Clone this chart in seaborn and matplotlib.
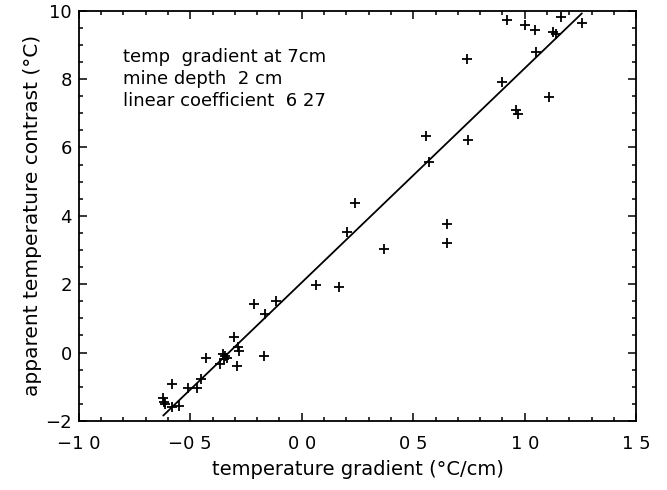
import matplotlib
matplotlib.use("Agg")
import matplotlib.pyplot as plt
from matplotlib.ticker import MultipleLocator, FixedLocator, FixedFormatter
import numpy as np
import pandas as pd
import seaborn as sns

# Measured temperature gradient (°C/cm) vs apparent temperature contrast (°C)
gradient = [
    0.922, 1.003, 1.047, 1.163, 1.256, 1.126, 1.140, 1.051, 0.743, 0.900,
    1.108, 0.960, 0.970, 0.559, 0.571, 0.746, 0.649, 0.649, 0.239, 0.201,
    0.367, 0.064, 0.168,
    -0.117, -0.215, -0.164, -0.303, -0.288, -0.283, -0.292, -0.171, -0.342,
    -0.352, -0.336, -0.347, -0.367, -0.428, -0.453, -0.470, -0.512, -0.583,
    -0.621, -0.616, -0.611, -0.580, -0.551,
]
contrast = [
    9.74, 9.58, 9.44, 9.82, 9.64, 9.39, 9.32, 8.78, 8.60, 7.91,
    7.48, 7.10, 6.99, 6.33, 5.59, 6.22, 3.75, 3.20, 4.38, 3.54,
    3.04, 1.98, 1.91,
    1.52, 1.43, 1.12, 0.46, 0.16, 0.06, -0.38, -0.10, -0.10,
    -0.04, -0.16, -0.20, -0.33, -0.15, -0.77, -1.03, -1.05, -0.93,
    -1.32, -1.46, -1.51, -1.60, -1.56,
]

# Linear fit parameters
slope = 6.27
intercept = 2.05

x_ticks = [-1.0, -0.5, 0.0, 0.5, 1.0, 1.5]
x_tick_labels = ["\u22121 0", "\u22120 5", "0 0", "0 5", "1 0", "1 5"]
y_ticks = [-2, 0, 2, 4, 6, 8, 10]
y_tick_labels = ["\u22122", "0", "2", "4", "6", "8", "10"]

info_lines = [
    "temp  gradient at 7cm",
    "mine depth  2 cm",
    "linear coefficient  6 27",
]

df = pd.DataFrame({"gradient": gradient, "contrast": contrast})
fit_x = np.array([min(gradient), max(gradient)])
fit = pd.DataFrame({"gradient": fit_x, "contrast": intercept + slope * fit_x})

sns.set_style("ticks")
plt.rcParams["font.family"] = ["DejaVu Sans"]
plt.rcParams["text.color"] = "black"
plt.rcParams["axes.labelcolor"] = "black"
plt.rcParams["xtick.color"] = "black"
plt.rcParams["ytick.color"] = "black"

fig = plt.figure(figsize=(6.67, 4.90), dpi=100)
ax = fig.add_axes([0.118, 0.141, 0.836, 0.837])

sns.scatterplot(data=df, x="gradient", y="contrast", marker="+", s=55,
                color="black", linewidth=1.3, ax=ax, zorder=3)
sns.lineplot(data=fit, x="gradient", y="contrast", color="black",
             linewidth=1.3, ax=ax)

ax.set_xlim(-1.0, 1.5)
ax.set_ylim(-2, 10)

ax.xaxis.set_major_locator(FixedLocator(x_ticks))
ax.xaxis.set_major_formatter(FixedFormatter(x_tick_labels))
ax.xaxis.set_minor_locator(MultipleLocator(0.1))
ax.yaxis.set_major_locator(FixedLocator(y_ticks))
ax.yaxis.set_major_formatter(FixedFormatter(y_tick_labels))
ax.yaxis.set_minor_locator(MultipleLocator(0.5))

ax.tick_params(which="both", direction="in", top=True, right=True,
               color="black", labelcolor="black", width=1.1)
ax.tick_params(which="major", length=6)
ax.tick_params(which="minor", length=3)
ax.tick_params(axis="x", which="major", pad=10, labelsize=13)
ax.tick_params(axis="y", which="major", pad=5, labelsize=13)

for sp in ax.spines.values():
    sp.set_color("black")
    sp.set_linewidth(1.3)

ax.set_xlabel("temperature gradient (\u00b0C/cm)", fontsize=14, labelpad=5,
              color="black")
ax.set_ylabel("apparent temperature contrast (\u00b0C)", fontsize=14.5,
              labelpad=2, color="black")

for i, line in enumerate(info_lines):
    ax.text(-0.80, 8.65 - 0.65 * i, line, fontsize=13, va="center",
            ha="left", color="black")

fig.savefig("out.png", dpi=100, facecolor="white")
